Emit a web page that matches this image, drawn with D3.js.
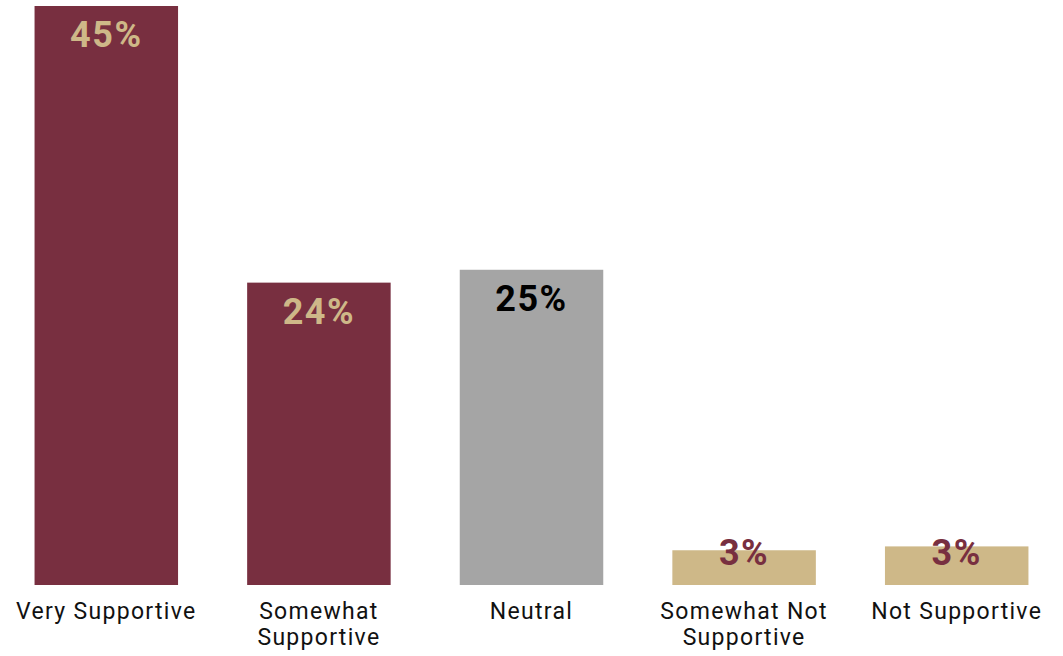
<!DOCTYPE html>
<html>
<head>
<meta charset="utf-8">
<script src="https://cdn.jsdelivr.net/npm/d3@7"></script>
<style>
  body { margin: 0; background: #fff; }
</style>
</head>
<body>
<script>
// data
var categories = ["Very Supportive", "Somewhat Supportive", "Neutral", "Somewhat Not Supportive", "Not Supportive"];
var values = [45, 23.5, 24.5, 2.7, 3.0];
var valueLabels = ["45%", "24%", "25%", "3%", "3%"];
var barColors = ["#782F40", "#782F40", "#A5A5A5", "#CEB888", "#CEB888"];
var labelColors = ["#CEB888", "#CEB888", "#000000", "#782F40", "#782F40"];
// category names split into lines as in the picture
var categoryLines = [["Very Supportive"], ["Somewhat", "Supportive"], ["Neutral"], ["Somewhat Not", "Supportive"], ["Not Supportive"]];

var width = 1063, height = 656;
var baseY = 585, topY = 6;

var svg = d3.select("body").append("svg")
    .attr("width", width)
    .attr("height", height);

var xScale = d3.scaleBand()
    .domain(categories)
    .range([0, width])
    .paddingInner(0.325)
    .paddingOuter(0.1625);

var yScale = d3.scaleLinear()
    .domain([0, 45])
    .range([baseY, topY]);

svg.selectAll("rect.bar").data(values).enter()
    .append("rect")
    .attr("class", "bar")
    .attr("x", function(d, i) { return xScale(categories[i]); })
    .attr("y", function(d) { return yScale(d); })
    .attr("width", xScale.bandwidth())
    .attr("height", function(d) { return baseY - yScale(d); })
    .attr("fill", function(d, i) { return barColors[i]; });

svg.selectAll("text.val").data(values).enter()
    .append("text")
    .attr("class", "val")
    .attr("x", function(d, i) { return xScale(categories[i]) + xScale.bandwidth() / 2; })
    .attr("y", function(d) { return Math.min(yScale(d) + 41, baseY - 20); })
    .attr("text-anchor", "middle")
    .style("font-family", "Roboto, sans-serif")
    .style("font-weight", "bold")
    .style("font-size", "36px")
    .style("letter-spacing", "1.5px")
    .style("fill", function(d, i) { return labelColors[i]; })
    .text(function(d, i) { return valueLabels[i]; });

// category axis, only the labels are shown
var xAxis = d3.axisBottom(xScale).tickSize(0).tickPadding(0).tickFormat("");
var axisG = svg.append("g")
    .attr("transform", "translate(0," + baseY + ")")
    .call(xAxis);
axisG.select(".domain").remove();

axisG.selectAll(".tick").each(function(d, i) {
    var t = d3.select(this).append("text")
        .attr("text-anchor", "middle")
        .attr("y", 34)
        .style("font-family", "Roboto, sans-serif")
        .style("font-size", "23px")
        .style("letter-spacing", "1.3px")
        .style("fill", "#111");
    categoryLines[i].forEach(function(line, j) {
        t.append("tspan").attr("x", 0).attr("dy", j === 0 ? 0 : 26).text(line);
    });
});
</script>
</body>
</html>
